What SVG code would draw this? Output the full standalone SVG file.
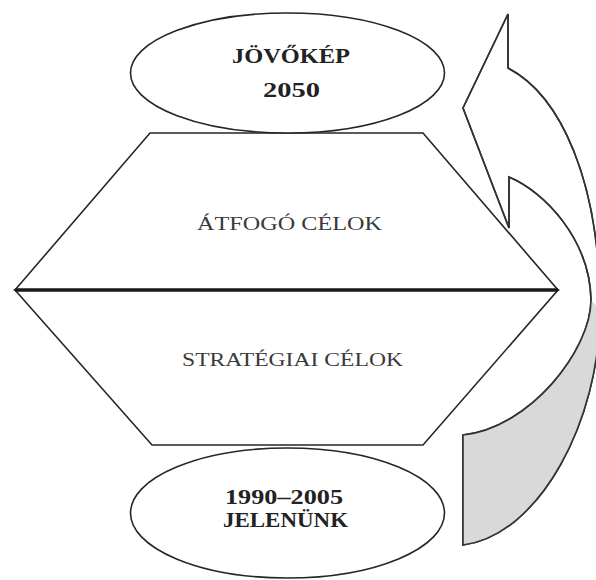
<svg xmlns="http://www.w3.org/2000/svg" width="596" height="580" viewBox="0 0 596 580">
  <style>
    .shape { fill: #ffffff; stroke: #262626; stroke-width: 1.6; stroke-linejoin: miter; }
    .mid { stroke: #1a1a1a; stroke-width: 3.5; fill: none; }
    .lbl { font-family: "Liberation Serif", "DejaVu Serif", serif; font-size: 19px; fill: #3a3a3a; text-anchor: middle; }
    .bold { font-family: "Liberation Serif", "DejaVu Serif", serif; font-size: 20px; font-weight: bold; fill: #222222; text-anchor: middle; }
    .gray { fill: #d9d9d9; stroke: none; }
    .outline { fill: none; stroke: #333333; stroke-width: 1.6; stroke-linejoin: miter; }
  </style>
  <rect width="596" height="580" fill="#ffffff"/>

  <g id="atfogo-celok">
    <polygon class="shape" points="15,290 150,133 423,133 558,290"/>
    <text class="lbl" x="289.5" y="230" textLength="185" lengthAdjust="spacingAndGlyphs">ÁTFOGÓ CÉLOK</text>
  </g>

  <g id="strategiai-celok">
    <polygon class="shape" points="15,290 152,445 423,445 558,290"/>
    <text class="lbl" x="292.5" y="366" textLength="221" lengthAdjust="spacingAndGlyphs">STRATÉGIAI CÉLOK</text>
  </g>

  <g id="divider">
    <line class="mid" x1="15" y1="290" x2="558" y2="290"/>
  </g>

  <g id="jovokep">
    <ellipse class="shape" cx="287.5" cy="73" rx="157" ry="60"/>
    <text class="bold" x="291" y="63" textLength="118" lengthAdjust="spacingAndGlyphs">JÖVŐKÉP</text>
    <text class="bold" x="291.5" y="97" textLength="57" lengthAdjust="spacingAndGlyphs">2050</text>
  </g>

  <g id="jelenunk">
    <ellipse class="shape" cx="287.5" cy="513" rx="157" ry="65"/>
    <text class="bold" x="284" y="504" textLength="118" lengthAdjust="spacingAndGlyphs">1990–2005</text>
    <text class="bold" x="285.5" y="527" textLength="125" lengthAdjust="spacingAndGlyphs">JELENÜNK</text>
  </g>

  <g id="connectors">
    <path class="shape" d="M508,14 L508,68 C560,95 600,180 600,310 C600,420 540,535 463,545 L463,435 C530,428 591,350 591,300 C590,240 545,192 509,177 L509,228 L463,108 Z"/>
    <path class="gray" d="M591,300 C591,350 530,428 463,435 L463,545 C540,535 600,420 600,310 Z"/>
    <path class="outline" d="M508,14 L508,68 C560,95 600,180 600,310 C600,420 540,535 463,545 L463,435 C530,428 591,350 591,300 C590,240 545,192 509,177 L509,228 L463,108 Z"/>
  </g>
</svg>
